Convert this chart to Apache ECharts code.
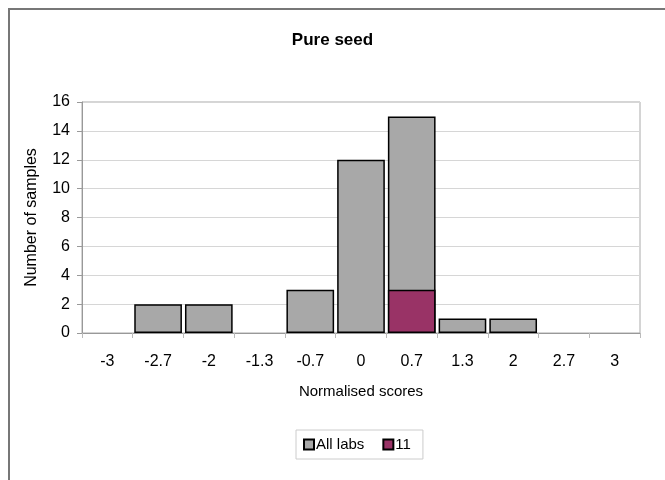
<!DOCTYPE html>
<html>
<head>
<meta charset="utf-8">
<script src="https://cdn.jsdelivr.net/npm/echarts@6/dist/echarts.min.js"></script>
<style>html,body{margin:0;padding:0;background:#fff;}#c{width:665px;height:480px;}</style>
</head>
<body>
<div id="c"></div>
<script>
const categories = ['-3', '-2.7', '-2', '-1.3', '-0.7', '0', '0.7', '1.3', '2', '2.7', '3'];
const allLabs = [0, 2, 2, 0, 3, 12, 15, 1, 1, 0, 0];
const lab11 = [0, 0, 0, 0, 0, 0, 3, 0, 0, 0, 0];
const seriesNames = ['All labs', '11'];

const noZero = arr => arr.map(v => (v === 0 ? '-' : v));

const chart = echarts.init(document.getElementById('c'), null, {renderer: 'canvas'});
const font = 'Liberation Sans, Arial, sans-serif';
chart.setOption({
  animation: false,
  backgroundColor: '#fff',
  textStyle: {fontFamily: font},
  title: {
    text: 'Pure seed', left: 'center', top: 27,
    textStyle: {fontFamily: font, fontSize: 17, fontWeight: 'bold', color: '#000'}
  },
  graphic: [{
    type: 'rect', shape: {x: 9, y: 9, width: 700, height: 520},
    style: {fill: 'none', stroke: '#777', lineWidth: 2}, silent: true
  }],
  grid: {left: 82, right: 25, top: 102, bottom: 147, show: true, borderColor: '#aaa', borderWidth: 1, backgroundColor: 'transparent'},
  legend: {
    top: 430, left: 296,
    data: seriesNames,
    itemWidth: 10, itemHeight: 10, itemGap: 18,
    borderColor: '#ccc', borderWidth: 1, padding: [7, 12, 7, 7],
    textStyle: {fontFamily: font, fontSize: 15, color: '#000', padding: [0, 0, 0, -3]},
    icon: 'rect'
  },
  xAxis: {
    type: 'category', data: categories,
    name: 'Normalised scores', nameLocation: 'middle', nameGap: 51,
    nameTextStyle: {fontFamily: font, fontSize: 15, color: '#000'},
    axisLine: {lineStyle: {color: '#999'}},
    axisTick: {show: true, length: 5, lineStyle: {color: '#bbb'}},
    axisLabel: {fontFamily: font, fontSize: 16, color: '#000', margin: 21}
  },
  yAxis: {
    type: 'value', min: 0, max: 16, interval: 2,
    name: 'Number of samples', nameLocation: 'middle', nameGap: 42,
    nameTextStyle: {fontFamily: font, fontSize: 16, color: '#000'},
    axisLine: {show: true, lineStyle: {color: '#999'}},
    axisTick: {show: true, length: 5, lineStyle: {color: '#999'}},
    axisLabel: {fontFamily: font, fontSize: 16, color: '#000', margin: 12},
    splitLine: {lineStyle: {color: '#d6d6d6'}}
  },
  series: [
    {
      name: seriesNames[0], type: 'bar', data: noZero(allLabs),
      barCategoryGap: '6%', barGap: '-100%',
      itemStyle: {color: '#a8a8a8', borderColor: '#000', borderWidth: 1.5}
    },
    {
      name: seriesNames[1], type: 'bar', data: noZero(lab11),
      barCategoryGap: '6%', barGap: '-100%',
      itemStyle: {color: '#993366', borderColor: '#000', borderWidth: 1.5}
    }
  ]
});
</script>
</body>
</html>
